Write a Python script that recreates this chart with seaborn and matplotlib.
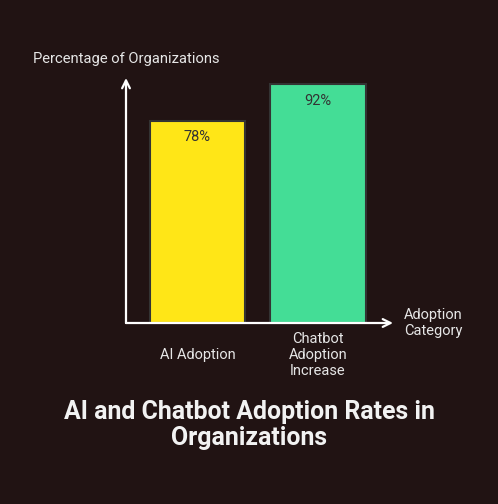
import matplotlib
matplotlib.use("Agg")
import matplotlib.pyplot as plt
import seaborn as sns
import pandas as pd

categories = ["AI Adoption", "Chatbot\nAdoption\nIncrease"]
values = [78, 92]
value_labels = ["78%", "92%"]
bar_colors = ["#FFE617", "#44DD96"]
y_label = "Percentage of Organizations"
x_label = "Adoption\nCategory"
title = "AI and Chatbot Adoption Rates in\nOrganizations"

BG = "#211313"
TXT = "#E6E6E6"

sns.set_theme(style="white")
plt.rcParams["font.family"] = ["Roboto", "DejaVu Sans"]

fig = plt.figure(figsize=(4.98, 5.04), dpi=100)
fig.patch.set_facecolor(BG)
ax = fig.add_axes([126/498, 181/504, 267/498, 245/504])
ax.set_facecolor(BG)

df = pd.DataFrame({"cat": categories, "val": values})
sns.barplot(data=df, x="cat", y="val", hue="cat", palette=bar_colors, saturation=1,
            width=0.79, edgecolor="#333333", linewidth=1.5, legend=False, ax=ax)

ax.set_xlim(-0.593, 1.622)
ax.set_ylim(0, 94.4)

for i, (v, lab) in enumerate(zip(values, value_labels)):
    ax.text(i, v - 6.3, lab, ha="center", va="center", fontsize=10.5, color="#333333")

for s in ax.spines.values():
    s.set_visible(False)
ax.set_yticks([])
ax.set_xticks(range(len(categories)))
ax.set_xticklabels(categories, fontsize=10.5, color=TXT, va="center", linespacing=1.15)
ax.tick_params(axis="x", length=0, pad=23)
ax.set_xlabel("")
ax.set_ylabel("")

# axis arrows
ax.annotate("", xy=(1.0, 0), xytext=(0, 0), xycoords="axes fraction",
            arrowprops=dict(arrowstyle="->", color="white", lw=1.6, mutation_scale=14,
                            shrinkA=0, shrinkB=0), annotation_clip=False)
ax.annotate("", xy=(0, 1.0), xytext=(0, 0), xycoords="axes fraction",
            arrowprops=dict(arrowstyle="->", color="white", lw=1.6, mutation_scale=14,
                            shrinkA=0, shrinkB=0), annotation_clip=False)

fig.text(126/498, 1 - 59/504, y_label, ha="center", va="center", fontsize=10.6, color=TXT)
fig.text(404/498, 1 - 323/504, x_label, ha="left", va="center", fontsize=10.5, color=TXT,
         linespacing=1.15)
fig.text(0.5, 1 - 425/504, title, ha="center", va="center", fontsize=17.9, fontweight="bold",
         color="#F2F2F2", linespacing=1.15)

fig.savefig("out.png", dpi=100, facecolor=BG)
